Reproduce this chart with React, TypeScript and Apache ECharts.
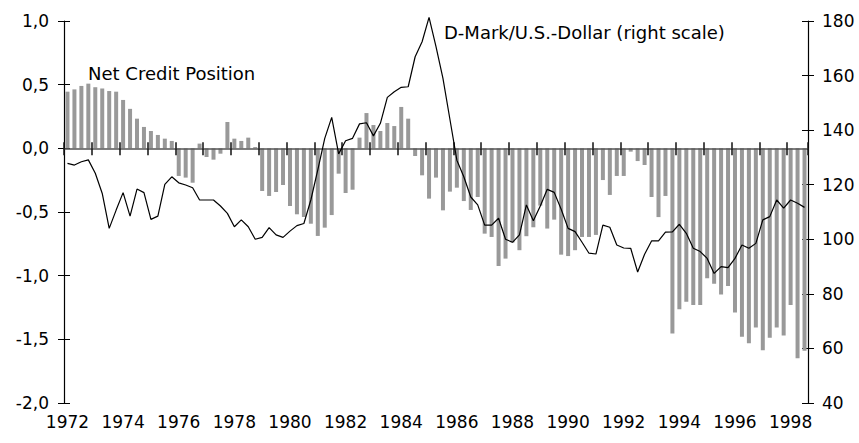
import React, { useEffect, useRef } from 'react';
import * as echarts from 'echarts';

const FONT = 'DejaVu Sans';

// Quarterly categories 1972 Q1 .. 1998 Q3
const years: number[] = [1972, 1973, 1974, 1975, 1976, 1977, 1978, 1979, 1980, 1981, 1982, 1983, 1984, 1985, 1986, 1987, 1988, 1989, 1990, 1991, 1992, 1993, 1994, 1995, 1996, 1997, 1998];
const quarterNames: string[] = ['Q1', 'Q2', 'Q3', 'Q4'];
const categories: string[] = years.flatMap((y) => quarterNames.map((q) => `${y} ${q}`)).slice(0, 107);

// Net credit position (left scale)
const netCredit: number[] = [
  0.445, 0.463, 0.49, 0.508, 0.48, 0.47, 0.45, 0.445,
  0.38, 0.31, 0.233, 0.168, 0.136, 0.105, 0.076, 0.058,
  -0.217, -0.23, -0.27, 0.037, -0.068, -0.089, -0.042, 0.207,
  0.076, 0.058, 0.084, 0.01, -0.335, -0.374, -0.343, -0.288,
  -0.453, -0.518, -0.539, -0.592, -0.688, -0.623, -0.524, -0.199,
  -0.351, -0.325, 0.084, 0.277, 0.183, 0.136, 0.199, 0.175,
  0.325, 0.233, -0.06, -0.212, -0.395, -0.23, -0.487, -0.34,
  -0.309, -0.414, -0.484, -0.382, -0.67, -0.696, -0.924, -0.866,
  -0.74, -0.8, -0.69, -0.62, -0.45, -0.63, -0.56, -0.835,
  -0.846, -0.8, -0.696, -0.696, -0.68, -0.249, -0.366, -0.217,
  -0.217, -0.026, -0.1, -0.131, -0.382, -0.54, -0.374, -1.455,
  -1.264, -1.204, -1.23, -1.23, -1.02, -1.063, -1.147, -1.081,
  -1.29, -1.479, -1.531, -1.408, -1.586, -1.487, -1.408, -1.469,
  -1.23, -1.649, -1.59,
];

// D-Mark / U.S.-Dollar (right scale)
const dmUsd: number[] = [
  127.8, 127.2, 128.4, 129.1, 124.2, 116.8, 104, 110.7,
  117.1, 108.5, 118.4, 117.1, 107.3, 108.5, 120.1, 122.9,
  120.7, 119.9, 118.9, 114.4, 114.4, 114.4, 112.2, 109.5,
  104.6, 107.1, 104.6, 100, 100.7, 104.3, 101.6, 100.7,
  103.0, 105.0, 105.8, 114.4, 125.4, 137.0, 144.7, 131.3,
  136.1, 137.0, 142.3, 142.7, 137.9, 142.5, 152.0, 154.1,
  155.7, 155.9, 166.9, 172.4, 181.3, 170.6, 159, 144,
  129, 122.9, 115.5, 112.6, 105.2, 105.2, 107.7, 100.0,
  98.9, 101.6, 112.6, 106.8, 112.2, 118.3, 117.2, 111,
  104.0, 102.8, 98.9, 94.9, 94.6, 105.2, 104.4, 97.9,
  96.8, 96.7, 88.0, 94.5, 99.4, 99.4, 102.6, 102.7,
  105.5, 102.2, 96.7, 95.5, 93.0, 87.5, 90.0, 89.6,
  93.0, 97.9, 96.7, 98.5, 107.1, 108.3, 114.4, 111.4,
  114.4, 113.2, 111.7,
];

const leftTicks = { min: -2, max: 1, interval: 0.5 };
const rightTicks = { min: 40, max: 180, interval: 20 };

const seriesNames = ['Net Credit Position', 'D-Mark/U.S.-Dollar (right scale)'];

export default function App() {
  const ref = useRef<HTMLDivElement>(null);

  useEffect(() => {
    if (!ref.current) return;
    const chart = echarts.init(ref.current, undefined, { renderer: 'svg' });
    const labelStyle = { color: '#000', fontFamily: FONT, fontSize: 17 };
    const yearTick = (i: number) => i % 4 === 0;
    const option: any = {
      animation: false,
      backgroundColor: '#fff',
      grid: { left: 64, right: 51, top: 21, bottom: 40, containLabel: false },
      xAxis: [
        {
          type: 'category', data: categories, position: 'bottom', boundaryGap: true,
          axisLine: { show: false, onZero: false }, axisTick: { show: false },
          axisLabel: { ...labelStyle, interval: (i: number) => i % 8 === 0, formatter: (v: string) => v.slice(0, 4), margin: 10 },
          splitLine: { show: false },
        },
        {
          type: 'category', data: categories, position: 'bottom', boundaryGap: true, z: 10,
          axisLine: { show: true, onZero: true, onZeroAxisIndex: 0, lineStyle: { color: '#555', width: 1.5 } },
          axisTick: { show: true, interval: yearTick, length: 7, lineStyle: { color: '#111', width: 1.5 } },
          axisLabel: { show: false }, splitLine: { show: false },
        },
        {
          type: 'category', data: categories, position: 'bottom', boundaryGap: true, z: 10,
          axisLine: { show: false, onZero: true, onZeroAxisIndex: 0 },
          axisTick: { show: true, inside: true, interval: yearTick, length: 6, lineStyle: { color: '#111', width: 1.5 } },
          axisLabel: { show: false }, splitLine: { show: false },
        },
      ],
      yAxis: [
        {
          type: 'value', position: 'left', ...leftTicks,
          axisLine: { show: true, onZero: false, lineStyle: { color: '#000', width: 1.2 } },
          axisTick: { show: true, length: 6, lineStyle: { color: '#000' } },
          axisLabel: { ...labelStyle, margin: 15, formatter: (v: number) => v.toFixed(1).replace('.', ',') },
          splitLine: { show: false },
        },
        {
          type: 'value', position: 'right', ...rightTicks,
          axisLine: { show: true, onZero: false, lineStyle: { color: '#000', width: 1.2 } },
          axisTick: { show: true, length: 6, lineStyle: { color: '#000' } },
          axisLabel: { ...labelStyle, margin: 14 },
          splitLine: { show: false },
        },
        {
          type: 'value', position: 'left', ...leftTicks,
          axisLine: { show: false, onZero: false },
          axisTick: { show: true, inside: true, length: 6, lineStyle: { color: '#000' } },
          axisLabel: { show: false }, splitLine: { show: false },
        },
        {
          type: 'value', position: 'right', ...rightTicks,
          axisLine: { show: false, onZero: false },
          axisTick: { show: true, inside: true, length: 6, lineStyle: { color: '#000' } },
          axisLabel: { show: false }, splitLine: { show: false },
        },
      ],
      series: [
        {
          name: seriesNames[0], type: 'bar', xAxisIndex: 0, yAxisIndex: 0,
          data: netCredit, barWidth: 4, itemStyle: { color: '#999' }, z: 2,
        },
        {
          name: seriesNames[1], type: 'line', xAxisIndex: 0, yAxisIndex: 1,
          data: dmUsd, symbol: 'none', clip: false, z: 12,
          lineStyle: { color: '#000', width: 1.2 },
        },
      ],
      graphic: [
        { type: 'text', left: 88, top: 64, style: { text: seriesNames[0], fill: '#000', font: `18px "${FONT}"` } },
        { type: 'text', left: 444, top: 23, style: { text: seriesNames[1], fill: '#000', font: `18px "${FONT}"` } },
      ],
    };
    chart.setOption(option);
    return () => chart.dispose();
  }, []);

  return <div ref={ref} style={{ position: 'absolute', left: 0, top: 0, width: 859, height: 443 }} />;
}
